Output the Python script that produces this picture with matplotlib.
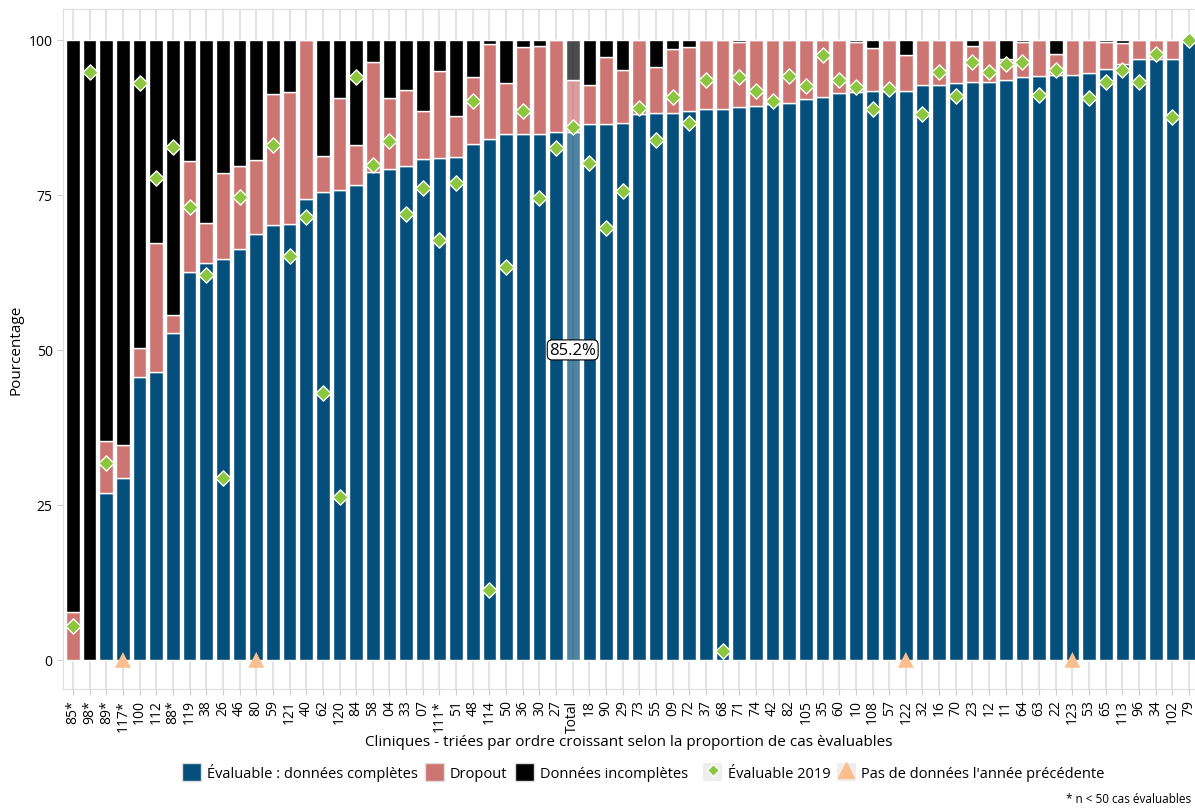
import matplotlib
matplotlib.use("Agg")
import matplotlib.pyplot as plt
from matplotlib.patches import Patch
from matplotlib.lines import Line2D
from matplotlib.colors import to_rgba
import numpy as np

plt.rcParams['font.family'] = ['Open Sans', 'DejaVu Sans']

cliniques = ['85*', '98*', '89*', '117*', '100', '112', '88*', '119', '38', '26',
             '46', '80', '59', '121', '40', '62', '120', '84', '58', '04',
             '33', '07', '111*', '51', '48', '114', '50', '36', '30', '27',
             'Total', '18', '90', '29', '73', '55', '09', '72', '37', '68',
             '71', '74', '42', '82', '105', '35', '60', '10', '108', '57',
             '122', '32', '16', '70', '23', '12', '11', '64', '63', '22',
             '123', '53', '65', '113', '96', '34', '102', '79']

complete = [0, 0, 26.9, 29.3, 45.6, 46.5, 52.7, 62.6, 64.1, 64.6,
            66.3, 68.7, 70.2, 70.3, 74.3, 75.5, 75.8, 76.6, 78.7, 79.2,
            79.6, 80.8, 81.0, 81.2, 83.3, 84.1, 84.8, 84.8, 84.9, 85.1,
            85.2, 86.5, 86.5, 86.6, 88.0, 88.2, 88.3, 88.5, 88.8, 88.9,
            89.2, 89.4, 89.6, 89.8, 90.5, 90.8, 91.5, 91.6, 91.7, 91.7,
            91.8, 92.7, 92.8, 93.0, 93.3, 93.3, 93.6, 94.0, 94.2, 94.3,
            94.3, 94.6, 95.4, 96.1, 96.9, 96.9, 97.0, 100]

dropout = [7.7, 0, 8.4, 5.4, 4.7, 20.8, 2.9, 17.8, 6.3, 14.0,
           13.3, 12.0, 21.1, 21.3, 25.7, 5.8, 14.9, 6.4, 17.8, 11.4,
           12.3, 7.7, 14.0, 6.6, 10.8, 15.2, 8.2, 14.1, 14.1, 14.9,
           8.3, 6.2, 10.8, 8.5, 12.0, 7.5, 10.2, 10.4, 11.2, 11.1,
           10.4, 10.6, 10.4, 10.2, 9.5, 9.2, 8.5, 8.0, 7.0, 8.3,
           5.8, 7.3, 7.2, 7.0, 5.7, 6.7, 3.4, 5.6, 5.8, 3.5,
           5.7, 5.4, 4.3, 3.4, 3.1, 3.1, 3.0, 0]

# nan = pas de données l'année précédente
eval_2019 = [5.5, 94.9, 31.7, np.nan, 93.1, 77.8, 82.8, 73.0, 62.1, 29.4,
             74.6, np.nan, 83.0, 65.1, 71.4, 43.0, 26.2, 94.1, 79.8, 83.7,
             71.9, 76.1, 67.7, 77.0, 90.1, 11.2, 63.4, 88.6, 74.5, 82.6,
             85.9, 80.2, 69.7, 75.6, 89.0, 83.9, 90.8, 86.6, 93.5, 1.5,
             94.0, 91.8, 90.1, 94.2, 92.6, 97.5, 93.6, 92.4, 88.9, 92.1,
             np.nan, 88.1, 94.9, 91.0, 96.5, 94.8, 96.2, 96.4, 91.2, 95.1,
             np.nan, 90.6, 93.3, 95.1, 93.2, 97.7, 87.6, 100]

complete = np.array(complete)
dropout = np.array(dropout)
incomplete = np.clip(100 - complete - dropout, 0, None)
eval_2019 = np.array(eval_2019)
x = np.arange(len(cliniques))

c_blue = '#044f7b'
c_pink = '#cd7572'
c_black = '#000000'
c_green = '#8cc63f'
c_tri = '#fbbf8f'

total_idx = cliniques.index('Total')


def colours(c):
    cols = [to_rgba(c)] * len(x)
    cols[total_idx] = to_rgba(c, 0.7)
    return cols


fig = plt.figure(figsize=(11.95, 8.12), dpi=100)
ax = fig.add_axes([63 / 1195, 122 / 812, 1 - 63 / 1195, 680 / 812])

w = 0.82
ax.bar(x, complete, width=w, color=colours(c_blue), edgecolor='white', linewidth=1, zorder=2)
ax.bar(x, dropout, width=w, bottom=complete, color=colours(c_pink), edgecolor='white', linewidth=1, zorder=2)
ax.bar(x, incomplete, width=w, bottom=complete + dropout, color=colours(c_black), edgecolor='white', linewidth=1, zorder=2)

has = ~np.isnan(eval_2019)
ax.scatter(x[has], eval_2019[has], marker='D', s=60, color=c_green, edgecolor='white', linewidth=1, zorder=4)
ax.scatter(x[~has], np.zeros((~has).sum()), marker='^', s=130, color=c_tri, edgecolor='none', zorder=4)

ax.text(total_idx, 50, '85.2%', ha='center', va='center', fontsize=12, zorder=5,
        bbox=dict(boxstyle='round,pad=0.12,rounding_size=0.3', fc='white', ec='black', lw=0.8))

ax.set_xlim(-0.6, len(x) - 0.64)
ax.set_ylim(-4.7, 105)
ax.set_xticks(x, cliniques, rotation=90, fontsize=10)
ax.set_yticks([0, 25, 50, 75, 100])
ax.tick_params(axis='y', labelsize=10, length=4, color='#cccccc')
ax.tick_params(axis='x', length=4, color='#cccccc')
ax.grid(axis='x', color='#e3e3e3', linewidth=1.5, zorder=0)
ax.set_axisbelow(True)
for s in ax.spines.values():
    s.set_color('#dddddd')
ax.set_ylabel('Pourcentage', fontsize=11)
ax.set_xlabel('Cliniques - triées par ordre croissant selon la proportion de cas èvaluables', fontsize=11, labelpad=2)

key_bg = Patch(facecolor='#eeeeee', edgecolor='none')
h1 = [Patch(facecolor=c_blue, edgecolor='#dddddd'),
      Patch(facecolor=c_pink, edgecolor='#dddddd'),
      Patch(facecolor=c_black, edgecolor='#dddddd')]
l1 = ['Évaluable : données complètes', 'Dropout', 'Données incomplètes']
fig.legend(h1, l1, loc='center', bbox_to_anchor=(435 / 1195, 1 - 773 / 812), ncol=3, frameon=False,
           fontsize=10.5, handlelength=1.3, handleheight=1.6, handletextpad=0.4, columnspacing=0.5)

h2 = [(key_bg, Line2D([], [], marker='D', color=c_green, markeredgecolor='white', linestyle='none', markersize=6)),
      (key_bg, Line2D([], [], marker='^', color=c_tri, linestyle='none', markersize=11))]
l2 = ['Évaluable 2019', "Pas de données l'année précédente"]
fig.legend(h2, l2, loc='center', bbox_to_anchor=(904 / 1195, 1 - 773 / 812), ncol=2, frameon=False,
           fontsize=10.5, handlelength=1.3, handleheight=1.6, handletextpad=0.4, columnspacing=0.4)

fig.text(0.997, 0.008, '* n < 50 cas évaluables', ha='right', va='bottom', fontsize=8.5)

fig.savefig('out.png', dpi=100)
